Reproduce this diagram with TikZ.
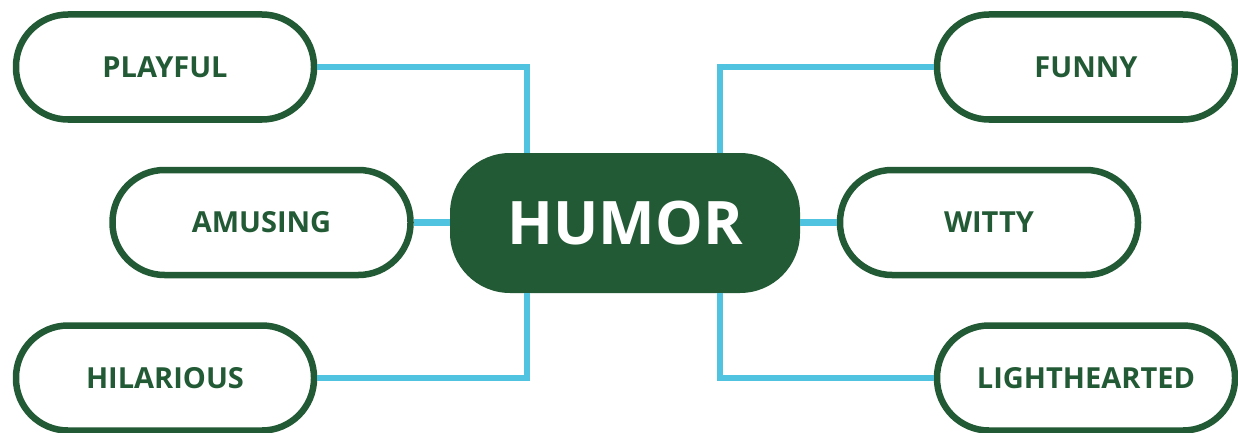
\documentclass[tikz,border=0pt]{standalone}
\usepackage{fontspec}
\setmainfont{Open Sans}
\definecolor{dgreen}{HTML}{225A35}
\definecolor{lblue}{HTML}{4FC3E0}
\begin{document}
\begin{tikzpicture}[x=1pt,y=-1pt,
  leaf/.style={draw=dgreen, line width=6.5pt, fill=white, rectangle,
    rounded corners=52pt, minimum width=298pt, minimum height=105pt,
    inner sep=0pt, text=dgreen, font=\fontsize{29}{32}\selectfont\bfseries},
  hub/.style={fill=dgreen, rectangle, rounded corners=60pt,
    minimum width=350pt, minimum height=140pt, inner sep=0pt,
    text=white, font=\fontsize{60}{66}\selectfont\bfseries},
  link/.style={draw=lblue, line width=6.5pt}]
\useasboundingbox (0,0) rectangle (1238,433);
\node[hub] (humor) at (625,223) {HUMOR};
\node[leaf] (playful) at (165,67) {PLAYFUL};
\node[leaf] (amusing) at (261.5,222.5) {AMUSING};
\node[leaf] (hilarious) at (165,378) {HILARIOUS};
\node[leaf] (funny) at (1086,67) {FUNNY};
\node[leaf] (witty) at (989,222.5) {WITTY};
\node[leaf] (light) at (1086,378) {LIGHTHEARTED};
\draw[link] (playful.east) -| ([xshift=-98pt]humor.north);
\draw[link] (hilarious.east) -| ([xshift=-98pt]humor.south);
\draw[link] (funny.west) -| ([xshift=95pt]humor.north);
\draw[link] (light.west) -| ([xshift=95pt]humor.south);
\draw[link] (amusing.east) -- (amusing.east -| humor.west);
\draw[link] (witty.west) -- (witty.west -| humor.east);
\end{tikzpicture}
\end{document}
